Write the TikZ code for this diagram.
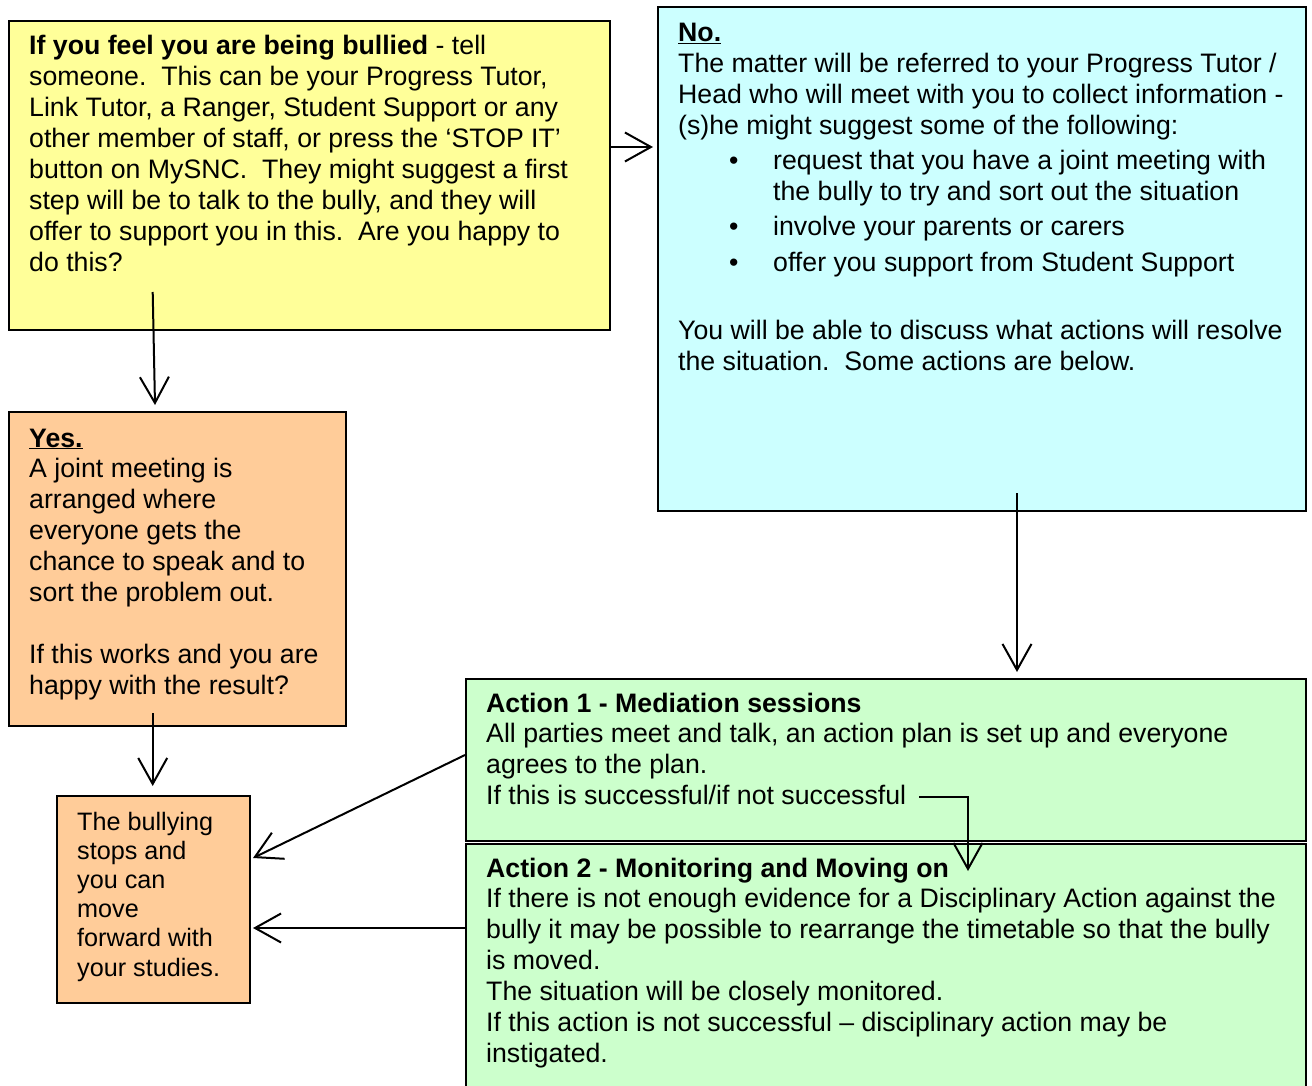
\documentclass[tikz,border=0pt]{standalone}
\usepackage{fontspec}
\setmainfont{Liberation Sans}
\usetikzlibrary{arrows.meta}
\definecolor{byellow}{HTML}{FFFF99}
\definecolor{bcyan}{HTML}{CCFFFF}
\definecolor{borange}{HTML}{FFCC99}
\definecolor{bgreen}{HTML}{CCFFCC}
\newcommand{\mytext}[1]{\parbox[t]{900pt}{\raggedright #1}}
\newcommand{\bul}{\makebox[95pt][l]{\hspace*{51pt}\textbullet}}
\newcommand{\ind}{\hspace*{95pt}}
\tikzset{
  box/.style={draw=black, line width=2pt, rectangle, inner sep=0pt, anchor=north west},
  txt/.style={inner sep=0pt, anchor=base west, font=\fontsize{26.7}{30.9}\selectfont},
  smalltxt/.style={inner sep=0pt, anchor=base west, font=\fontsize{25.2}{29.2}\selectfont},
  arr/.style={line width=2pt, -{Straight Barb[length=26pt,width=29pt,line width=2pt]}},
  ln/.style={line width=2pt}
}
\begin{document}
\begin{tikzpicture}[x=1pt,y=-1pt]
\useasboundingbox (0,0) rectangle (1312,1086);
\clip (0,0) rectangle (1312,1086);
% boxes
\node[box, fill=byellow, minimum width=601pt, minimum height=309pt] (yellow) at (8,20) {};
\node[box, fill=bcyan, minimum width=648pt, minimum height=504pt] (cyan) at (657,6) {};
\node[box, fill=borange, minimum width=337pt, minimum height=314pt] (yes) at (8,411) {};
\node[box, fill=borange, minimum width=193pt, minimum height=207pt] (stop) at (56,795) {};
\node[box, fill=bgreen, minimum width=840pt, minimum height=162pt] (act1) at (465,678) {};
\node[box, fill=bgreen, minimum width=840pt, minimum height=260pt] (act2) at (465,843) {};
% texts
\node[txt] (ytxt) at (29,55) {\mytext{\textbf{If you feel you are being bullied} - tell\\
someone.\ \ This can be your Progress Tutor,\\
Link Tutor, a Ranger, Student Support or any\\
other member of staff, or press the ‘STOP IT’\\
button on MySNC.\ \ They might suggest a first\\
step will be to talk to the bully, and they will\\
offer to support you in this.\ \ Are you happy to\\
do this?}};
\node[txt] (ctxt) at (678,42) {\mytext{\underline{\textbf{No.}}\\
The matter will be referred to your Progress Tutor /\\
Head who will meet with you to collect information -\\
(s)he might suggest some of the following:\\[4pt]
\bul request that you have a joint meeting with\\
\ind the bully to try and sort out the situation\\[4pt]
\bul involve your parents or carers\\[5pt]
\bul offer you support from Student Support\\[37pt]
You will be able to discuss what actions will resolve\\
the situation.\ \ Some actions are below.}};
\node[txt] (yestxt) at (29,447) {\mytext{\underline{\textbf{Yes.}}\\
A joint meeting is\\
arranged where\\
everyone gets the\\
chance to speak and to\\
sort the problem out.\\[30.9pt]
If this works and you are\\
happy with the result?}};
\node[smalltxt] (stoptxt) at (77,830) {\mytext{The bullying\\
stops and\\
you can\\
move\\
forward with\\
your studies.}};
\node[txt] (a1txt) at (486,712) {\mytext{\textbf{Action 1 - Mediation sessions}\\
All parties meet and talk, an action plan is set up and everyone\\
agrees to the plan.\\
If this is successful/if not successful}};
\node[txt] (a2txt) at (486,877) {\mytext{\textbf{Action 2 - Monitoring and Moving on}\\
If there is not enough evidence for a Disciplinary Action against the\\
bully it may be possible to rearrange the timetable so that the bully\\
is moved.\\
The situation will be closely monitored.\\
If this action is not successful – disciplinary action may be\\
instigated.}};
% connector coordinates
\coordinate (y1) at (152.7,292);
\coordinate (y1e) at (155,405);
\coordinate (y2) at (609,147);
\coordinate (y2e) at (653,147);
\coordinate (c1) at (1017,493);
\coordinate (c1e) at (1017,672);
\coordinate (yes1) at (152.7,713);
\coordinate (yes1e) at (152.7,786);
\coordinate (a1) at (465,755);
\coordinate (a1e) at (253,858);
\coordinate (a2) at (465,928);
\coordinate (a2e) at (253,928);
\coordinate (s1) at (919,797);
\coordinate (s1c) at (968,797);
\coordinate (s1e) at (968,871);
% connectors
\draw[arr] (y1) -- (y1e);
\draw[arr] (y2) -- (y2e);
\draw[arr] (c1) -- (c1e);
\draw[arr] (yes1) -- (yes1e);
\draw[arr] (a1) -- (a1e);
\draw[arr] (a2) -- (a2e);
\draw[arr] (s1) -- (s1c) -- (s1e);
\end{tikzpicture}
\end{document}
